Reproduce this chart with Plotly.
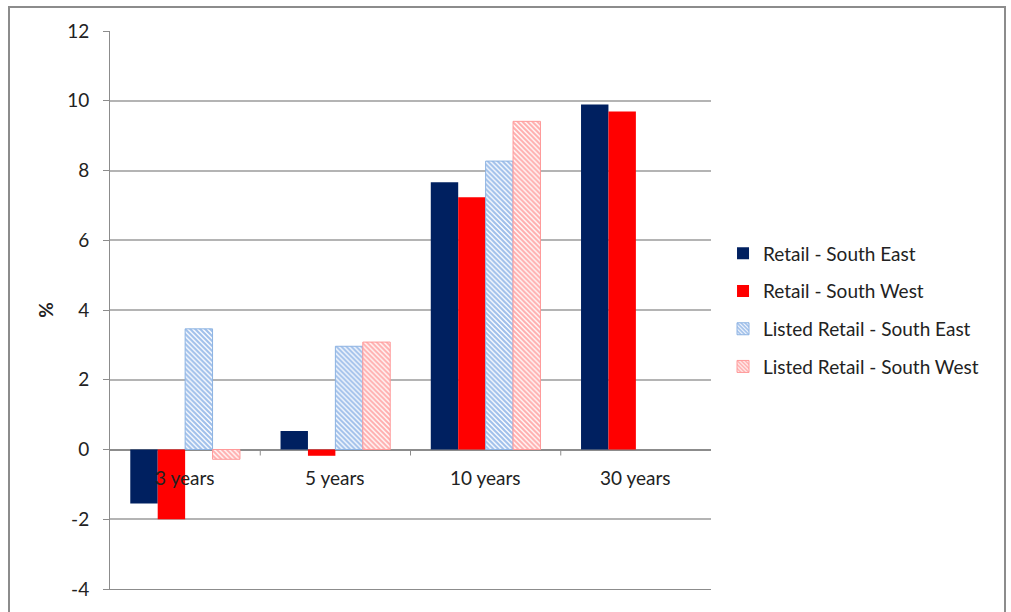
import plotly.graph_objects as go

categories = ["3 years", "5 years", "10 years", "30 years"]
retail_se = [-1.55, 0.53, 7.66, 9.89]
retail_sw = [-2.0, -0.18, 7.23, 9.69]
listed_se = [3.46, 2.96, 8.27, None]
listed_sw = [-0.28, 3.08, 9.41, None]
y_ticks = [12, 10, 8, 6, 4, 2, 0, -2, -4]
y_tick_text = ["12", "10", "8", "6", "4", "2", "0", "-2", "-4"]

FONT = "Lato"
FS = 19
fig = go.Figure()

fig.add_bar(x=categories, y=retail_se, name="Retail - South East",
            marker=dict(color="#002060", line=dict(width=0)), legendgroup="a")
fig.add_bar(x=categories, y=retail_sw, name="Retail - South West",
            marker=dict(color="#FF0000", line=dict(width=0)), legendgroup="b")
fig.add_bar(x=categories, y=listed_se, name="Listed Retail - South East",
            marker=dict(color="white", line=dict(width=1, color="#8DB3E2"),
                        pattern=dict(shape="\\", fgcolor="#3F7FD6", bgcolor="white",
                                     size=3.5, solidity=0.62)), legendgroup="c")
fig.add_bar(x=categories, y=listed_sw, name="Listed Retail - South West",
            marker=dict(color="white", line=dict(width=1, color="#FF9999"),
                        pattern=dict(shape="\\", fgcolor="#FF5C5C", bgcolor="white",
                                     size=3.5, solidity=0.62)), legendgroup="d")

for c in categories:
    fig.add_annotation(x=c, y=0, xref="x", yref="y", text=c, showarrow=False,
                       yshift=-28, font=dict(family=FONT, size=FS, color="#222"))

# category separator ticks on the zero line
for i in range(len(categories) - 1):
    fig.add_shape(type="line", xref="x", yref="y", x0=i + 0.5, x1=i + 0.5,
                  ysizemode="pixel", yanchor=0, y0=0, y1=-6,
                  line=dict(color="#8C8C8C", width=1))

# outer chart border
fig.add_shape(type="rect", xref="paper", yref="paper",
              x0=(9 - 110) / 601, x1=(1005 - 110) / 601,
              y0=-0.2, y1=(591 - 7) / 560,
              line=dict(color="#8C8C8C", width=2), layer="below")

fig.update_layout(
    width=1011, height=612,
    margin=dict(l=110, r=300, t=31, b=19),
    paper_bgcolor="white", plot_bgcolor="white",
    barmode="group", bargap=0.27, bargroupgap=0,
    font=dict(family=FONT, size=FS, color="#222"),
    legend=dict(x=1.02, y=0.5, xanchor="left", yanchor="middle",
                font=dict(family=FONT, size=FS, color="#222"),
                tracegroupgap=10, traceorder="grouped", itemwidth=30),
    showlegend=True,
)
fig.update_xaxes(showticklabels=False, showgrid=False, showline=True,
                 linecolor="#8C8C8C", linewidth=1, ticks="")
fig.update_yaxes(range=[-4, 12], tickvals=y_ticks, ticktext=y_tick_text, showgrid=True,
                 gridcolor="#B4B4B4", gridwidth=1.5, zeroline=True,
                 zerolinecolor="#8C8C8C", zerolinewidth=1.5,
                 showline=True, linecolor="#8C8C8C", linewidth=1,
                 ticks="outside", ticklen=6, tickcolor="#8C8C8C",
                 ticklabelstandoff=10,
                 tickfont=dict(family=FONT, size=FS, color="#222"),
                 title=dict(text="<b>%</b>", font=dict(family=FONT, size=FS), standoff=8))

fig.write_html("out.html")
